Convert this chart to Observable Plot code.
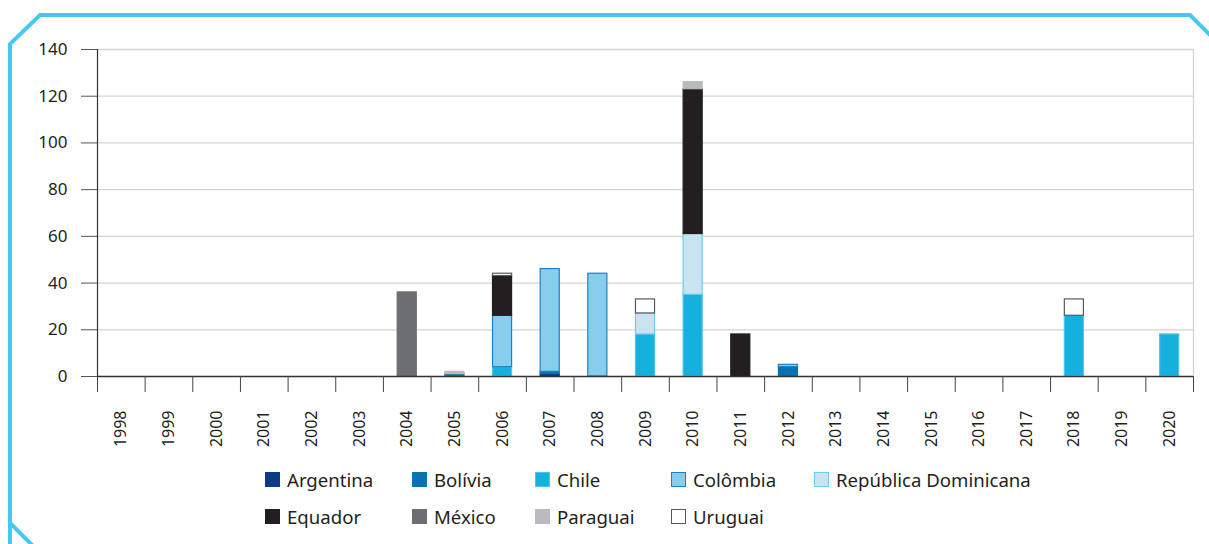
<!DOCTYPE html>
<html><head><meta charset="utf-8">
<script src="https://cdn.jsdelivr.net/npm/d3@7"></script>
<script src="https://cdn.jsdelivr.net/npm/@observablehq/plot@0.6"></script>
<style>
body{margin:0;background:#fff;font-family:"Noto Sans",sans-serif;}
#wrap{position:relative;width:1209px;height:544px;overflow:hidden;background:#fff;}
#frame{position:absolute;left:0;top:0;pointer-events:none;}
#chart{position:absolute;left:0;top:0;}
#legend{position:absolute;left:265px;top:467px;display:grid;grid-template-columns:147px 123px 136px 143px auto;row-gap:13px;}
.item{display:flex;align-items:center;font-size:18.6px;color:#231f20;height:24px;white-space:nowrap;}
.sw{width:15px;height:15px;box-sizing:border-box;margin-right:7px;}
</style></head>
<body>
<div id="wrap">
  <div id="chart"></div>
  <div id="legend"></div>
  <svg id="frame" width="1209" height="544"><path d="M10,545 L10,522 M33,546 L10,523 L10,44 L40,15 L1190,15 L1212,37" fill="none" stroke="#45c9f1" stroke-width="4"/></svg>
</div>
<script>
const years = [1998,1999,2000,2001,2002,2003,2004,2005,2006,2007,2008,2009,2010,2011,2012,2013,2014,2015,2016,2017,2018,2019,2020];
const countries = ["Argentina","Bolívia","Chile","Colômbia","República Dominicana","Equador","México","Paraguai","Uruguai"];
//                 98 99 00 01 02 03 04 05 06 07 08 09 10 11 12 13 14 15 16 17 18 19 20
const argentina = [0, 0, 0, 0, 0, 0, 0, 0, 0, 1, 0, 0, 0, 0, 0, 0, 0, 0, 0, 0, 0, 0, 0];
const bolivia   = [0, 0, 0, 0, 0, 0, 0, 1, 0, 1, 0, 0, 0, 0, 4, 0, 0, 0, 0, 0, 0, 0, 0];
const chile     = [0, 0, 0, 0, 0, 0, 0, 0, 4, 0, 0,18,35, 0, 0, 0, 0, 0, 0, 0,26, 0,18];
const colombia  = [0, 0, 0, 0, 0, 0, 0, 0,22,44,44, 0, 0, 0, 1, 0, 0, 0, 0, 0, 0, 0, 0];
const repDom    = [0, 0, 0, 0, 0, 0, 0, 0, 0, 0, 0, 9,26, 0, 0, 0, 0, 0, 0, 0, 0, 0, 0];
const equador   = [0, 0, 0, 0, 0, 0, 0, 0,17, 0, 0, 0,62,18, 0, 0, 0, 0, 0, 0, 0, 0, 0];
const mexico    = [0, 0, 0, 0, 0, 0,36, 0, 0, 0, 0, 0, 0, 0, 0, 0, 0, 0, 0, 0, 0, 0, 0];
const paraguai  = [0, 0, 0, 0, 0, 0, 0, 1, 0, 0, 0, 0, 3, 0, 0, 0, 0, 0, 0, 0, 0, 0, 0];
const uruguai   = [0, 0, 0, 0, 0, 0, 0, 0, 1, 0, 0, 6, 0, 0, 0, 0, 0, 0, 0, 0, 7, 0, 0];
const yTicks = [0,20,40,60,80,100,120,140];

const series = [argentina, bolivia, chile, colombia, repDom, equador, mexico, paraguai, uruguai];
const fills   = ["#0b3b82","#0a72b0","#14b1de","#87cdee","#c9e4f0","#231f20","#6d6e71","#b9babd","#ffffff"];
const strokes = ["#0b3b82","#0a72b0","#4fc3ea","#1d80c2","#6ccbef","#231f20","#6d6e71","#b9babd","#58595b"];

// stack rows
const rows = [];
years.forEach((yr, i) => {
  let acc = 0;
  series.forEach((s, k) => {
    const v = s[i];
    if (v > 0) { rows.push({year: yr, country: countries[k], k, y1: acc, y2: acc + v}); acc += v; }
  });
});
const boundaries = years.map(y => y - 0.5).concat([years[years.length-1] + 0.5]);

const chart = Plot.plot({
  width: 1209, height: 455,
  marginLeft: 97, marginRight: 16, marginTop: 49, marginBottom: 79,
  style: {fontFamily: '"Noto Sans", sans-serif', fontSize: "17px", color: "#231f20", background: "transparent"},
  x: {type: "linear", domain: [boundaries[0], boundaries[boundaries.length-1]], axis: null},
  y: {domain: [0, 140], axis: null},
  marks: [
    Plot.ruleY(yTicks.filter(d => d > 0), {stroke: "#d4d4d4", strokeWidth: 1.3}),
    Plot.ruleX([boundaries[boundaries.length-1]], {y1: 0, y2: 140, stroke: "#d4d4d4", strokeWidth: 1.3}),
    ...countries.map((c, k) => Plot.rect(rows.filter(r => r.k === k), {
      x1: d => d.year - 0.2, x2: d => d.year + 0.2, y1: "y1", y2: "y2",
      fill: fills[k], stroke: strokes[k], strokeWidth: 1.2
    })),
    Plot.axisY({ticks: yTicks, tickSize: 16, tickPadding: 14, tickFormat: d => String(d), label: null, fontSize: 17, stroke: "#555"}),
    Plot.ruleX([boundaries[0]], {y1: 0, y2: 140, stroke: "#333", strokeWidth: 1.2}),
    Plot.ruleY([0], {stroke: "#333", strokeWidth: 1.5}),
    Plot.axisX({ticks: boundaries, tickSize: 16, tickFormat: () => "", label: null, stroke: "#444"}),
    Plot.axisX({ticks: years, tickSize: 0, tickPadding: 34, tickRotate: -90, tickFormat: d => String(d), label: null, fontSize: 16})
  ]
});
document.getElementById("chart").appendChild(chart);

const legend = document.getElementById("legend");
countries.forEach((c, k) => {
  const it = document.createElement("div");
  it.className = "item";
  const sw = document.createElement("span");
  sw.className = "sw";
  sw.style.background = fills[k];
  sw.style.border = `1.3px solid ${strokes[k]}`;
  it.appendChild(sw);
  const t = document.createElement("span");
  t.textContent = c;
  it.appendChild(t);
  legend.appendChild(it);
});
</script>
</body></html>
